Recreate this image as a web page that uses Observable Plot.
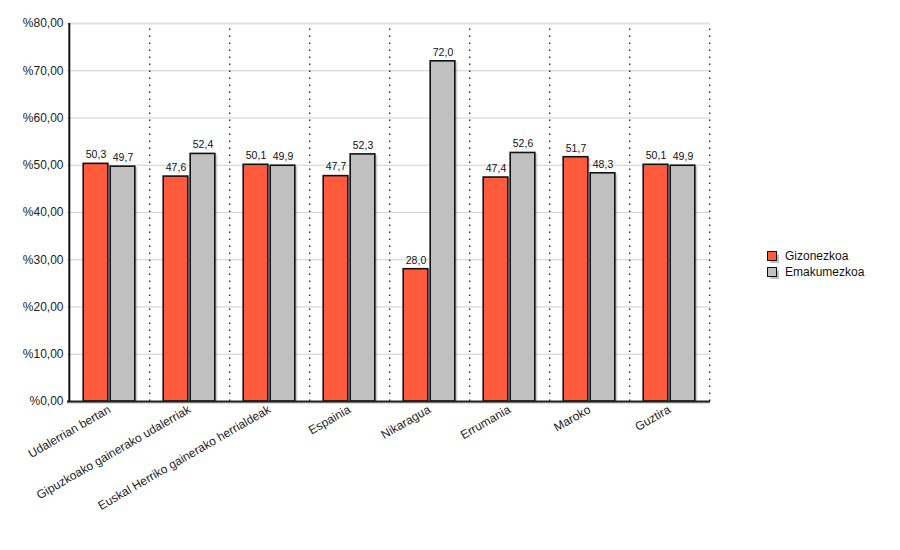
<!DOCTYPE html>
<html>
<head>
<meta charset="utf-8">
<script src="https://cdn.jsdelivr.net/npm/d3@7"></script>
<script src="https://cdn.jsdelivr.net/npm/@observablehq/plot@0.6"></script>
<style>
  html, body { margin: 0; padding: 0; background: #fff; }
  #wrap { position: relative; width: 900px; height: 550px; font-family: "Liberation Sans", Arial, sans-serif; }
  #legend { position: absolute; left: 767px; top: 248px; font-size: 12px; color: #111; }
  .item { display: flex; align-items: center; height: 16px; }
  .sw { width: 8px; height: 8px; border: 1.5px solid #111; margin-right: 8px; box-shadow: 1.5px 1.5px 1px rgba(0,0,0,0.25); }
</style>
</head>
<body>
<div id="wrap">
  <div id="chart"></div>
  <div id="legend"></div>
</div>
<script>
const categories = [
  "Udalerrian bertan",
  "Gipuzkoako gainerako udalerriak",
  "Euskal Herriko gainerako herrialdeak",
  "Espainia",
  "Nikaragua",
  "Errumania",
  "Maroko",
  "Guztira"
];
const seriesNames = ["Gizonezkoa", "Emakumezkoa"];
const gizonezkoa = [50.3, 47.6, 50.1, 47.7, 28.0, 47.4, 51.7, 50.1];
const emakumezkoa = [49.7, 52.4, 49.9, 52.3, 72.0, 52.6, 48.3, 49.9];
const yTicks = [0, 10, 20, 30, 40, 50, 60, 70, 80];
const colors = ["#ff5a3c", "#c0c0c0"];

const data = [];
categories.forEach((c, i) => {
  data.push({cat: c, series: seriesNames[0], value: gizonezkoa[i]});
  data.push({cat: c, series: seriesNames[1], value: emakumezkoa[i]});
});

const W = 900, H = 550, mL = 67, mR = 190, mT = 23, mB = 149;
const bw = (W - mL - mR) / categories.length;
const barW = 25, gap = 1;

const fmt = v => d3.format(".1f")(v).replace(".", ",");
const yfmt = v => "%" + d3.format(".2f")(v).replace(".", ",");

const inL = s => s === seriesNames[0] ? bw / 2 - gap - barW : bw / 2 + gap;
const inR = s => s === seriesNames[0] ? bw / 2 + gap : bw / 2 - gap - barW;

const marks = [];
// horizontal grid
marks.push(Plot.ruleY(yTicks, {stroke: "#cfcfcf", strokeWidth: 1}));
marks.push(Plot.ruleY([80], {stroke: "#e0e0e0", strokeWidth: 2}));
// dotted vertical separators at right edge of each category
marks.push(Plot.ruleX(categories, {x: d => d, dx: bw / 2, y1: 0, y2: 80, stroke: "#333", strokeWidth: 1.4, strokeDasharray: "1.4,5.6"}));
// bars per series
seriesNames.forEach((s, k) => {
  const sub = data.filter(d => d.series === s);
  marks.push(Plot.barY(sub, {x: "cat", y: "value", insetLeft: inL(s), insetRight: inR(s), dx: 2.5, dy: 1, fill: "#000", fillOpacity: 0.18}));
  marks.push(Plot.barY(sub, {x: "cat", y: "value", insetLeft: inL(s), insetRight: inR(s), fill: colors[k], stroke: "#111", strokeWidth: 1.6}));
  marks.push(Plot.text(sub, {x: "cat", y: "value", text: d => fmt(d.value), dx: (k === 0 ? -1 : 1) * (gap + barW / 2), dy: -9, fontSize: 10.5, fill: "#111"}));
});
// axes lines
marks.push(Plot.ruleY([0], {stroke: "#000", strokeWidth: 2, dy: 1, opacity: 0.25}));
marks.push(Plot.ruleY([0], {stroke: "#222", strokeWidth: 2}));
marks.push(Plot.ruleX([categories[0]], {x: d => d, dx: -bw / 2, y1: 0, y2: 80, stroke: "#111", strokeWidth: 2}));

const chart = Plot.plot({
  width: W,
  height: H,
  marginLeft: mL,
  marginRight: mR,
  marginTop: mT,
  marginBottom: mB,
  style: {fontFamily: "'Liberation Sans', Arial, sans-serif", background: "#fff", color: "#222"},
  x: {domain: categories, padding: 0, label: null},
  y: {domain: [0, 80], label: null},
  marks: [
    ...marks,
    Plot.axisX({tickSize: 0, tickRotate: -30, tickPadding: 7, fontSize: 12, label: null}),
    Plot.axisY({ticks: yTicks, tickFormat: yfmt, tickSize: 0, tickPadding: 4, fontSize: 12, label: null})
  ]
});
document.getElementById("chart").appendChild(chart);

const legend = document.getElementById("legend");
seriesNames.forEach((s, k) => {
  const it = document.createElement("div");
  it.className = "item";
  const sw = document.createElement("span");
  sw.className = "sw";
  sw.style.background = colors[k];
  const tx = document.createElement("span");
  tx.textContent = s;
  it.appendChild(sw);
  it.appendChild(tx);
  legend.appendChild(it);
});
</script>
</body>
</html>
